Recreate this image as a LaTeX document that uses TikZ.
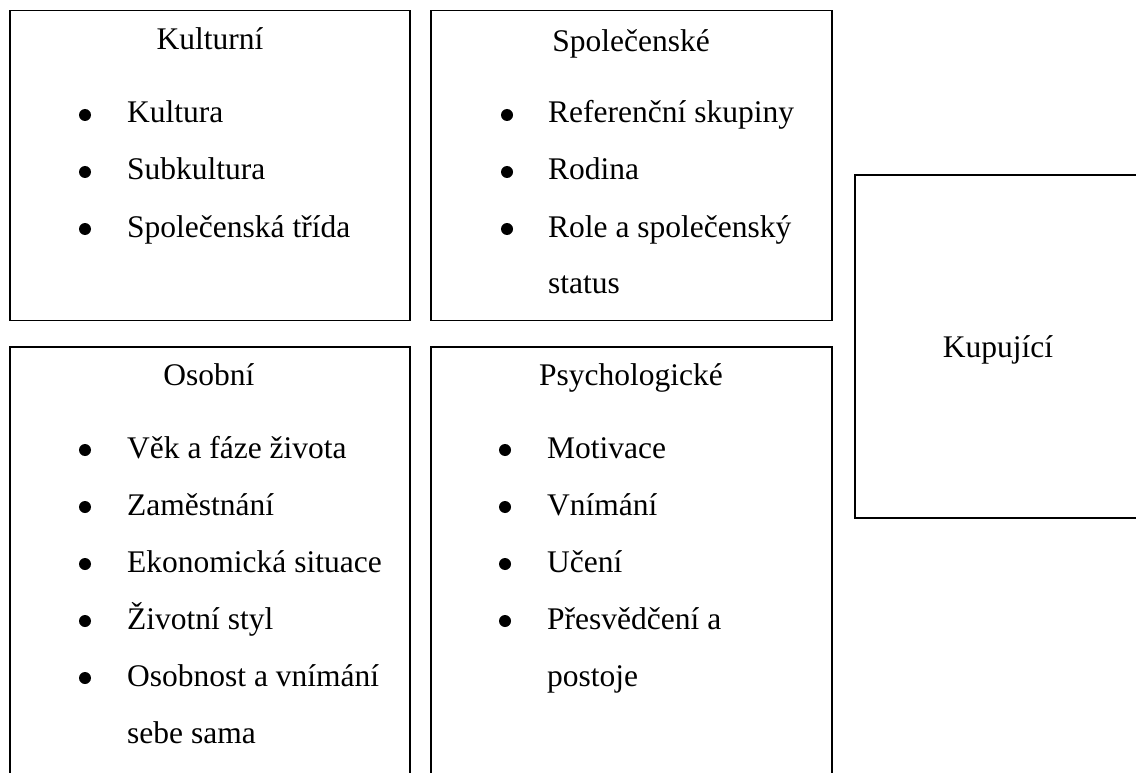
\documentclass[tikz,border=0pt]{standalone}
\usepackage{fontspec}
\setmainfont{Liberation Serif}
\begin{document}
\begin{tikzpicture}[x=1pt,y=-1pt,
  box/.style={draw=black,line width=1.9pt,rectangle,inner sep=0pt},
  txt/.style={inner sep=0pt,anchor=base west,font=\fontsize{31.5}{38}\selectfont},
  ttl/.style={inner sep=0pt,anchor=base,font=\fontsize{31.5}{38}\selectfont},
  bul/.style={circle,fill=black,inner sep=0pt,minimum size=12pt}]
\useasboundingbox (0,0) rectangle (1136,773);
\clip (0,0) rectangle (1136,773);
% boxes
\node[box,minimum width=400pt,minimum height=310pt] (kult) at (210,165.5) {};
\node[box,minimum width=401pt,minimum height=310pt] (spol) at (631.5,165.5) {};
\node[box,minimum width=400pt,minimum height=460pt] (osob) at (210,577) {};
\node[box,minimum width=401pt,minimum height=460pt] (psych) at (631.5,577) {};
\node[box,minimum width=290pt,minimum height=343pt] (kup) at (1000,346.5) {};
% Kulturní
\node[ttl] (t1) at (210,50) {Kulturní};
\node[bul] (b11) at (85,115) {}; \node[txt] (k1) at (127,123) {Kultura};
\node[bul] (b12) at (85,172) {}; \node[txt] (k2) at (127,180) {Subkultura};
\node[bul] (b13) at (85,229) {}; \node[txt] (k3) at (127,237) {Společenská třída};
% Společenské
\node[ttl] (t2) at (631,52) {Společenské};
\node[bul] (b21) at (507,115) {}; \node[txt] (s1) at (548,123) {Referenční skupiny};
\node[bul] (b22) at (507,172) {}; \node[txt] (s2) at (548,180) {Rodina};
\node[bul] (b23) at (507,229) {}; \node[txt] (s3) at (548,237) {Role a společenský};
\node[txt] (s4) at (548,293) {status};
% Osobní
\node[ttl] (t3) at (209,385) {Osobní};
\node[bul] (b31) at (85,450) {}; \node[txt] (o1) at (127,458) {Věk a fáze života};
\node[bul] (b32) at (85,507) {}; \node[txt] (o2) at (127,515) {Zaměstnání};
\node[bul] (b33) at (85,564) {}; \node[txt] (o3) at (127,572) {Ekonomická situace};
\node[bul] (b34) at (85,621) {}; \node[txt] (o4) at (127,629) {Životní styl};
\node[bul] (b35) at (85,678) {}; \node[txt] (o5) at (127,686) {Osobnost a vnímání};
\node[txt] (o6) at (127,743) {sebe sama};
% Psychologické
\node[ttl] (t4) at (631,385) {Psychologické};
\node[bul] (b41) at (505,450) {}; \node[txt] (p1) at (547,458) {Motivace};
\node[bul] (b42) at (505,507) {}; \node[txt] (p2) at (547,515) {Vnímání};
\node[bul] (b43) at (505,564) {}; \node[txt] (p3) at (547,572) {Učení};
\node[bul] (b44) at (505,621) {}; \node[txt] (p4) at (547,629) {Přesvědčení a};
\node[txt] (p5) at (547,686) {postoje};
% Kupující
\node[ttl] (t5) at (998,357) {Kupující};
\end{tikzpicture}
\end{document}
